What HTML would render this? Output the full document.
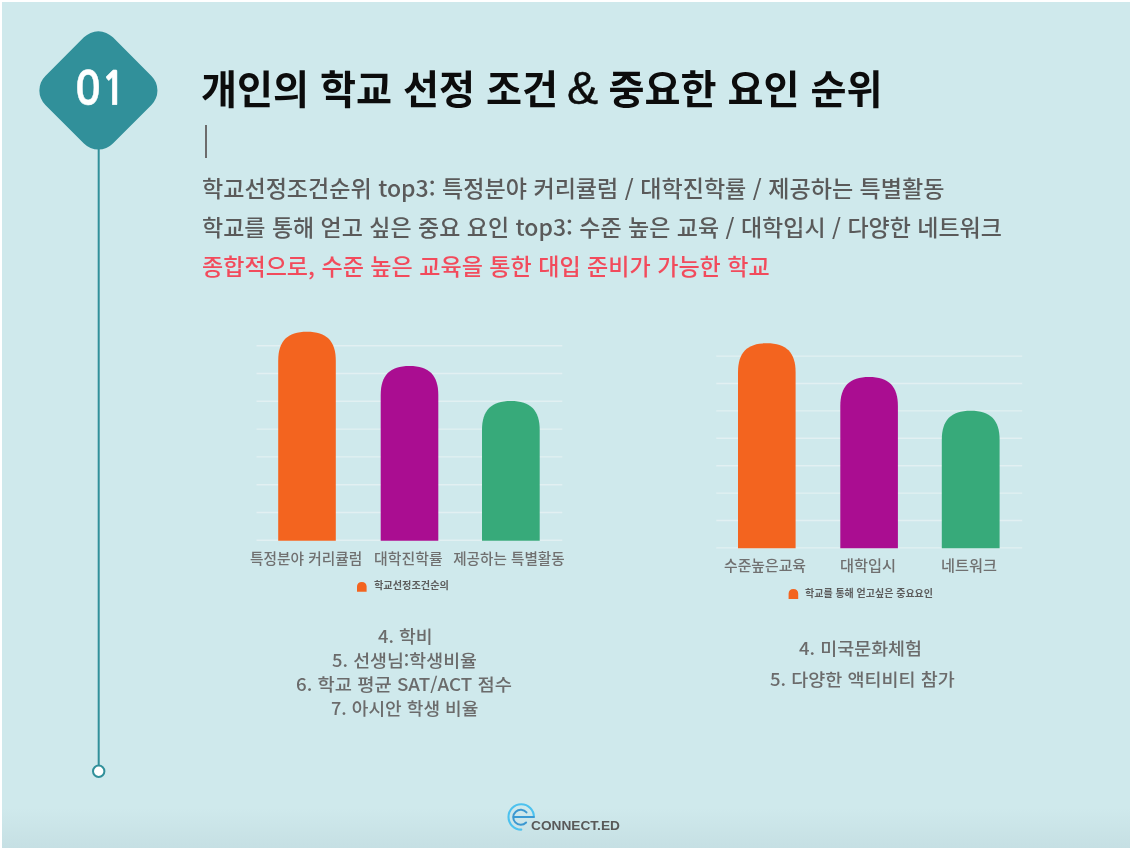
<!DOCTYPE html>
<html lang="ko">
<head>
<meta charset="utf-8">
<title>개인의 학교 선정 조건 &amp; 중요한 요인 순위</title>
<style>
html,body{margin:0;padding:0;background:#fff;}
body{width:1130px;height:849px;overflow:hidden;position:relative;font-family:"Liberation Sans","Noto Sans CJK KR",sans-serif;}
#slide{position:absolute;left:2px;top:2px;width:1140px;height:846px;background:#cfe9ec;overflow:hidden;}
#slide .shade{position:absolute;left:0;right:0;bottom:0;height:40px;background:linear-gradient(to bottom,rgba(145,170,180,0),rgba(145,170,180,0.15));}
.t{position:absolute;white-space:nowrap;transform-origin:0 0;line-height:1;margin:0;font-family:"Liberation Sans","Noto Sans CJK KR",sans-serif;}
.k{font-family:"Noto Sans CJK KR","Liberation Sans",sans-serif;}
svg{position:absolute;left:0;top:0;overflow:visible;}
#stage{position:absolute;left:0;top:0;width:1130px;height:849px;filter:blur(0.45px);}
</style>
</head>
<body>
<div id="stage">
<div id="slide"><div class="shade"></div></div>

<svg id="gfx" width="1130" height="849" viewBox="0 0 1130 849">
  <!-- timeline -->
  <line x1="98.7" y1="148" x2="98.7" y2="765.5" stroke="#31909a" stroke-width="2"/>
  <circle cx="98.7" cy="771.2" r="5.7" fill="#fff" stroke="#31909a" stroke-width="2"/>
  <!-- charts -->
  <g id="charts">
  <g stroke="#e2f0f2" stroke-width="1.4"><line x1="256.5" y1="345.7" x2="562.3" y2="345.7"/><line x1="256.5" y1="373.5" x2="562.3" y2="373.5"/><line x1="256.5" y1="401.3" x2="562.3" y2="401.3"/><line x1="256.5" y1="429.1" x2="562.3" y2="429.1"/><line x1="256.5" y1="456.9" x2="562.3" y2="456.9"/><line x1="256.5" y1="484.7" x2="562.3" y2="484.7"/><line x1="256.5" y1="512.5" x2="562.3" y2="512.5"/><line x1="256.5" y1="540.3" x2="562.3" y2="540.3"/></g>
  <path fill="#f3641f" d="M278.2 540.7L278.2 360.8C278.2 341.1 287.4 331.8 307.0 331.8C326.6 331.8 335.8 341.1 335.8 360.8L335.8 540.7Z"/>
  <path fill="#aa0d91" d="M380.7 540.7L380.7 395.0C380.7 375.3 389.9 366 409.5 366C429.1 366 438.3 375.3 438.3 395.0L438.3 540.7Z"/>
  <path fill="#37aa7a" d="M482 540.7L482 430.0C482 410.3 491.2 401 510.9 401C530.5 401 539.7 410.3 539.7 430.0L539.7 540.7Z"/>
  <g stroke="#e2f0f2" stroke-width="1.4"><line x1="716.3" y1="356.1" x2="1022.2" y2="356.1"/><line x1="716.3" y1="383.5" x2="1022.2" y2="383.5"/><line x1="716.3" y1="410.9" x2="1022.2" y2="410.9"/><line x1="716.3" y1="438.3" x2="1022.2" y2="438.3"/><line x1="716.3" y1="465.7" x2="1022.2" y2="465.7"/><line x1="716.3" y1="493.1" x2="1022.2" y2="493.1"/><line x1="716.3" y1="520.5" x2="1022.2" y2="520.5"/><line x1="716.3" y1="547.9" x2="1022.2" y2="547.9"/></g>
  <path fill="#f3641f" d="M738 548.3L738 372.2C738 352.5 747.2 343.2 766.8 343.2C786.4 343.2 795.6 352.5 795.6 372.2L795.6 548.3Z"/>
  <path fill="#aa0d91" d="M840.3 548.3L840.3 406.0C840.3 386.3 849.5 377 869.1 377C888.7 377 897.9 386.3 897.9 406.0L897.9 548.3Z"/>
  <path fill="#37aa7a" d="M941.8 548.3L941.8 439.8C941.8 420.1 951.0 410.8 970.7 410.8C990.4 410.8 999.6 420.1 999.6 439.8L999.6 548.3Z"/>
  </g>
  <!-- diamond -->
  <rect x="-47.75" y="-47.75" width="95.5" height="95.5" rx="20.5" ry="20.5" fill="#31909a" transform="translate(98.4 90.4) rotate(45)"/>
  <!-- legend markers -->
  <path fill="#f3641f" d="M357 591.8V586.6C357 583.5 358.8 581.9 361.8 581.9C364.8 581.9 366.6 583.5 366.6 586.6V591.8Z"/>
  <path fill="#f3641f" d="M788.6 599V593.8C788.6 590.7 790.4 589.1 793.4 589.1C796.4 589.1 798.2 590.7 798.2 593.8V599Z"/>
  <!-- logo -->
  <g id="logo" fill="none" stroke-linecap="round">
    <path d="M521.3 829.6A12.7 12.7 0 1 1 533.9 817" stroke="#4cc2ef" stroke-width="2.1"/>
    <path d="M533.9 817H513.6" stroke="#3a9bd4" stroke-width="1.8"/>
    <path d="M526.5 812.4A7.5 7.5 0 1 0 526.1 822.5" stroke="#3b98d1" stroke-width="2"/>
  </g>
</svg>

<div class="t" id="num" style="left:75px;top:67px;font-size:45.4px;color:#fff;font-weight:700;font-family:NanumGothic,'Liberation Sans',sans-serif;transform:scaleX(0.94);-webkit-text-stroke:0.5px #fff;">01</div>

<h1 class="t k" id="title" style="left:200.7px;top:66.5px;font-size:39.5px;font-weight:700;color:#0c0c0c;transform:scaleX(0.991);">개인의 학교 선정 조건 <span style="font-family:'Liberation Sans',sans-serif;font-weight:400;font-size:47px;line-height:0;letter-spacing:-2.5px;position:relative;left:-2px;-webkit-text-stroke:0.5px #0c0c0c;">&amp;</span> 중요한 요인 순위</h1>
<div id="vbar" style="position:absolute;left:205.4px;top:125px;width:1.5px;height:33.3px;background:#6c6c6c;"></div>

<p class="t k" id="s1" style="left:202px;top:176.3px;font-size:22.3px;color:#5a5a5a;transform:scaleX(1.0342);font-weight:500;">학교선정조건순위 top3: 특정분야 커리큘럼 / 대학진학률 / 제공하는 특별활동</p>
<p class="t k" id="s2" style="left:202px;top:215.4px;font-size:22.3px;color:#5a5a5a;transform:scaleX(1.031);font-weight:500;">학교를 통해 얻고 싶은 중요 요인 top3: 수준 높은 교육 / 대학입시 / 다양한 네트워크</p>
<p class="t k" id="s3" style="left:202px;top:254.4px;font-size:22.3px;color:#f24b5c;transform:scaleX(1.0342);font-weight:500;">종합적으로, 수준 높은 교육을 통한 대입 준비가 가능한 학교</p>

<div class="t k" id="xl1" style="left:250px;top:550.8px;font-size:14.6px;color:#707070;font-weight:500;transform:scaleX(1.008);">특정분야 커리큘럼</div>
<div class="t k" id="xl2" style="left:373.6px;top:550.8px;font-size:14.6px;color:#707070;font-weight:500;transform:scaleX(1.022);">대학진학률</div>
<div class="t k" id="xl3" style="left:453.2px;top:550.8px;font-size:14.6px;color:#707070;font-weight:500;">제공하는 특별활동</div>
<div class="t k" id="lg1" style="left:374px;top:580px;font-size:10px;font-weight:700;color:#5c5c5c;transform:scaleX(1.019);">학교선정조건순의</div>

<div class="t k" id="xr1" style="left:724px;top:558.3px;font-size:14.6px;color:#707070;font-weight:500;transform:scaleX(1.018);">수준높은교육</div>
<div class="t k" id="xr2" style="left:840px;top:558.3px;font-size:14.6px;color:#707070;font-weight:500;transform:scaleX(1.045);">대학입시</div>
<div class="t k" id="xr3" style="left:941px;top:558.3px;font-size:14.6px;color:#707070;font-weight:500;transform:scaleX(1.042);">네트워크</div>
<div class="t k" id="lg2" style="left:805px;top:587.8px;font-size:10px;font-weight:700;color:#5c5c5c;">학교를 통해 얻고싶은 중요요인</div>

<div class="t k" id="a1" style="left:378px;top:627.4px;font-size:17.6px;color:#6b6b6b;transform:scaleX(1.04);font-weight:500;">4. 학비</div>
<div class="t k" id="a2" style="left:332px;top:651.3px;font-size:17.6px;color:#6b6b6b;transform:scaleX(1.045);font-weight:500;">5. 선생님:학생비율</div>
<div class="t k" id="a3" style="left:296.2px;top:675.2px;font-size:17.6px;color:#6b6b6b;transform:scaleX(1.065);font-weight:500;">6. 학교 평균 SAT/ACT 점수</div>
<div class="t k" id="a4" style="left:331.4px;top:699.1px;font-size:17.6px;color:#6b6b6b;transform:scaleX(1.028);font-weight:500;">7. 아시안 학생 비율</div>

<div class="t k" id="b1" style="left:799px;top:638.6px;font-size:17.6px;color:#6b6b6b;transform:scaleX(1.049);font-weight:500;">4. 미국문화체험</div>
<div class="t k" id="b2" style="left:770px;top:670.4px;font-size:17.6px;color:#6b6b6b;transform:scaleX(1.052);font-weight:500;">5. 다양한 액티비티 참가</div>

<div class="t" id="brand" style="left:530.6px;top:818.5px;font-size:13px;font-weight:700;color:#595959;transform:scaleX(1.052);">CONNECT.ED</div>

</div>
</body>
</html>
